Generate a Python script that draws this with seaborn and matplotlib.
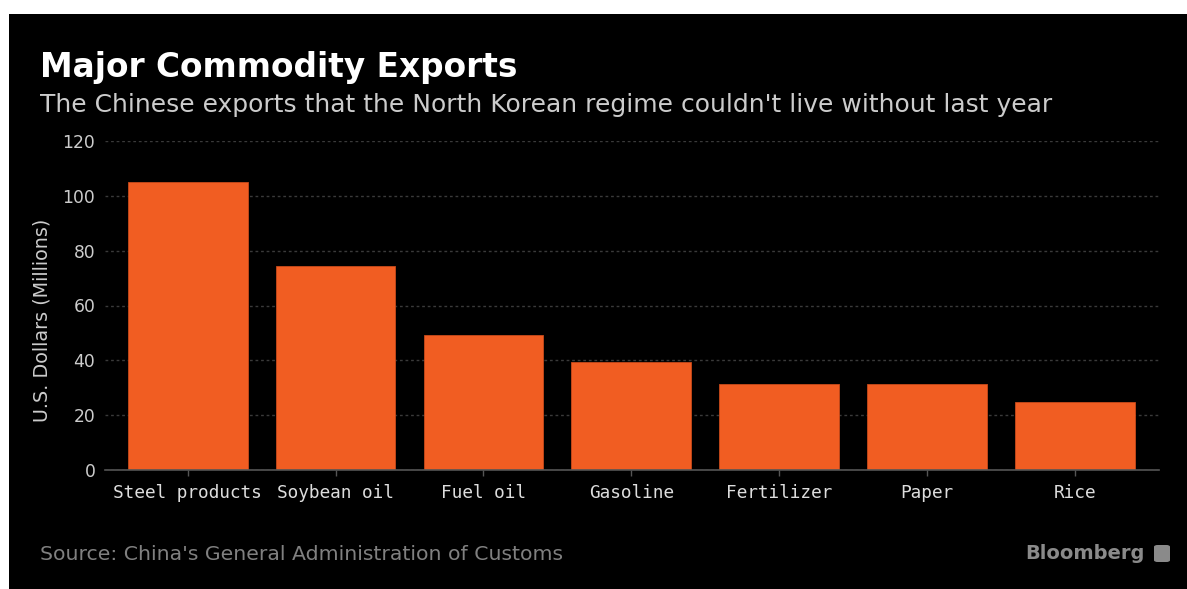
import matplotlib
matplotlib.use("Agg")
import matplotlib.pyplot as plt
import seaborn as sns
import pandas as pd
from matplotlib.patches import Rectangle, FancyBboxPatch

categories = ["Steel products", "Soybean oil", "Fuel oil", "Gasoline", "Fertilizer", "Paper", "Rice"]
values = [105.0, 74.3, 49.3, 39.5, 31.5, 31.5, 24.8]
yticks = [0, 20, 40, 60, 80, 100, 120]

title = "Major Commodity Exports"
subtitle = "The Chinese exports that the North Korean regime couldn't live without last year"
ylabel = "U.S. Dollars (Millions)"
source = "Source: China's General Administration of Customs"
brand = "Bloomberg"

sns.set_theme(style="dark")
plt.rcParams['font.family'] = ['DejaVu Sans']

W, H = 1187, 589
fig = plt.figure(figsize=(W / 100, H / 100), dpi=100, facecolor='white')
fig.patches.append(Rectangle((9 / W, 0), 1 - 9 / W, (H - 14) / H, transform=fig.transFigure,
                             facecolor='black', edgecolor='none', zorder=-10))

ax = fig.add_axes([105 / W, (H - 470) / H, (1159 - 105) / W, (470 - 141) / H])
ax.set_zorder(5)
ax.set_facecolor('none')
df = pd.DataFrame({"cat": categories, "val": values})
sns.barplot(data=df, x="cat", y="val", color="#F15D22", saturation=1, width=0.81, ax=ax,
            edgecolor="#c94a1a", linewidth=0.6, zorder=3)
ax.set_xlim(-0.56, 6.57)
ax.set_ylim(0, 120)
ax.set_yticks(yticks)
ax.set_axisbelow(True)
ax.grid(axis='y', color='#3a3a3a', linestyle=(0, (2, 2)), linewidth=1)
ax.grid(axis='x', visible=False)
for s in ['top', 'right', 'left']:
    ax.spines[s].set_visible(False)
ax.spines['bottom'].set_color('#555555')
ax.spines['bottom'].set_linewidth(1.2)
ax.spines['bottom'].set_zorder(4)
ax.tick_params(axis='x', colors='#555555', length=4, width=1, labelcolor='#dddddd', labelsize=12.8, pad=6, bottom=True)
ax.tick_params(axis='y', length=0, labelcolor='#cccccc', labelsize=12.3, pad=7)
for lab in ax.get_xticklabels():
    lab.set_fontfamily('DejaVu Sans Mono')
ax.set_xlabel('')
ax.set_ylabel('')

fig.text(42 / W, (H - 320) / H, ylabel, rotation=90, ha='center', va='center', color='#cccccc', fontsize=13.8)
fig.text(40 / W, (H - 77) / H, title, ha='left', va='baseline', color='white', fontsize=23.6, fontweight='bold')
fig.text(40 / W, (H - 112) / H, subtitle, ha='left', va='baseline', color='#cccccc', fontsize=18)
fig.text(40 / W, (H - 560) / H, source, ha='left', va='baseline', color='#808080', fontsize=14.7)
fig.text(1145 / W, (H - 559) / H, brand, ha='right', va='baseline', color='#8a8a8a', fontsize=14, fontweight='bold')
fig.patches.append(FancyBboxPatch((1154 / W, (H - 562) / H), 16 / W, 17 / H, boxstyle="round,pad=0,rounding_size=0.003",
                                  transform=fig.transFigure, facecolor='#8a8a8a', edgecolor='none', zorder=2))

fig.savefig("out.png", dpi=100, facecolor=fig.get_facecolor())
